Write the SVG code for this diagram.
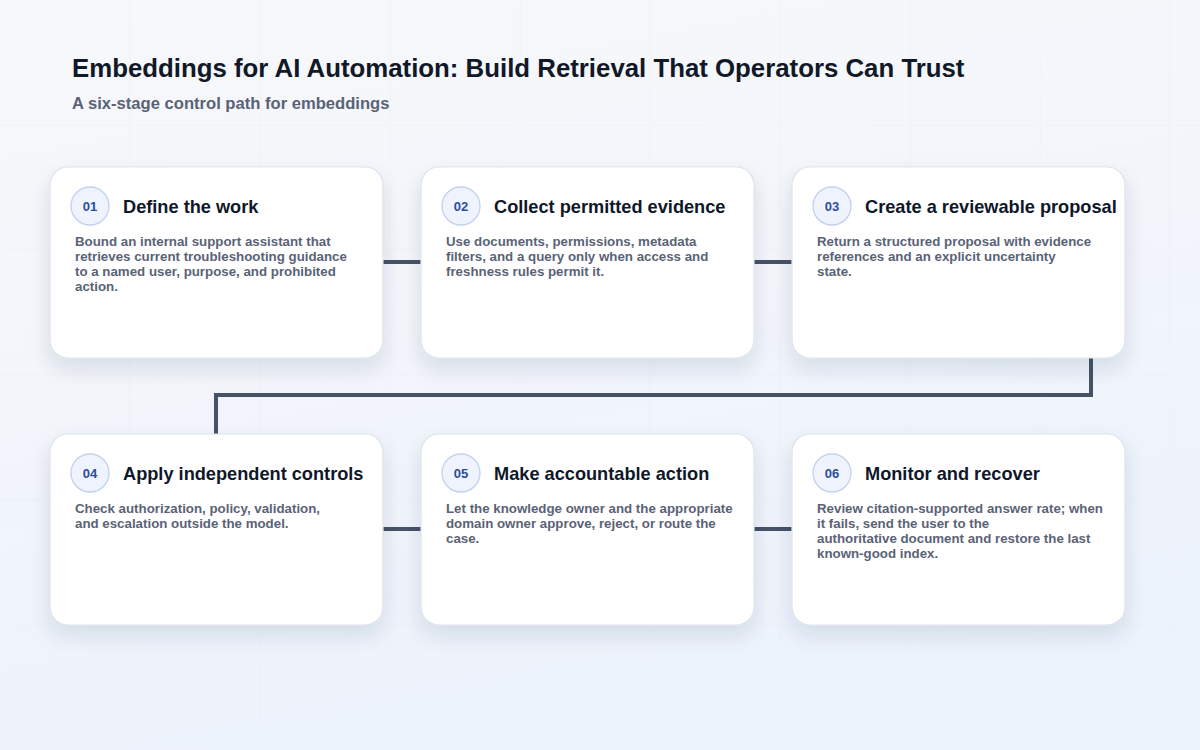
<svg xmlns="http://www.w3.org/2000/svg" width="1200" height="750" viewBox="0 0 1200 750">
<defs>
<linearGradient id="bg" x1="0" y1="0" x2="0.3" y2="1">
<stop offset="0" stop-color="#f7f8fa"/>
<stop offset="1" stop-color="#edf3fc"/>
</linearGradient>
<filter id="sh" x="-20%" y="-20%" width="140%" height="150%">
<feDropShadow dx="0" dy="10" stdDeviation="10" flood-color="#1e2a50" flood-opacity="0.12"/>
</filter>
<style>
.card{fill:#ffffff;stroke:#dde3ec;stroke-width:1.2}
.badge{fill:#eef3fd;stroke:#c3d1ec;stroke-width:1.3}
.num{font-family:"Liberation Sans",Arial,sans-serif;font-weight:bold;font-size:13px;fill:#2d4d9c;text-anchor:middle}
.ttl{font-family:"Liberation Sans",Arial,sans-serif;font-weight:bold;font-size:18.2px;fill:#0f172a}
.desc{font-family:"Liberation Sans",Arial,sans-serif;font-weight:bold;font-size:13.3px;fill:#5a6376}
.conn{fill:none;stroke:#465366;stroke-width:4;stroke-linejoin:miter}
.grid{stroke:#e9edf3;stroke-width:1}
</style>
</defs>
<rect width="1200" height="750" fill="url(#bg)"/>
<g id="grid" opacity="0.45">
<line class="grid" x1="130" y1="0" x2="130" y2="750"/>
<line class="grid" x1="260" y1="0" x2="260" y2="750"/>
<line class="grid" x1="390" y1="0" x2="390" y2="750"/>
<line class="grid" x1="520" y1="0" x2="520" y2="750"/>
<line class="grid" x1="650" y1="0" x2="650" y2="750"/>
<line class="grid" x1="780" y1="0" x2="780" y2="750"/>
<line class="grid" x1="910" y1="0" x2="910" y2="750"/>
<line class="grid" x1="1040" y1="0" x2="1040" y2="750"/>
<line class="grid" x1="1170" y1="0" x2="1170" y2="750"/>
<line class="grid" x1="0" y1="125" x2="1200" y2="125"/>
<line class="grid" x1="0" y1="250" x2="1200" y2="250"/>
<line class="grid" x1="0" y1="375" x2="1200" y2="375"/>
<line class="grid" x1="0" y1="500" x2="1200" y2="500"/>
<line class="grid" x1="0" y1="625" x2="1200" y2="625"/>
</g>
<text x="72" y="77" font-family="'Liberation Sans',Arial,sans-serif" font-weight="bold" font-size="25.8" fill="#111827">Embeddings for AI Automation: Build Retrieval That Operators Can Trust</text>
<text x="72" y="109" font-family="'Liberation Sans',Arial,sans-serif" font-weight="bold" font-size="16.6" fill="#5a6376">A six-stage control path for embeddings</text>
<g id="connectors">
<line class="conn" x1="383" y1="262" x2="421" y2="262"/>
<line class="conn" x1="754" y1="262" x2="792" y2="262"/>
<polyline class="conn" points="1091,358 1091,395 216,395 216,434"/>
<line class="conn" x1="383" y1="529" x2="421" y2="529"/>
<line class="conn" x1="754" y1="529" x2="792" y2="529"/>
</g>
<g id="node1">
<rect class="card" x="50" y="167" width="333" height="191" rx="18" filter="url(#sh)"/>
<circle class="badge" cx="90" cy="206" r="19"/>
<text class="num" x="90" y="211">01</text>
<text class="ttl" x="123" y="213">Define the work</text>
<text class="desc" x="75" y="246">Bound an internal support assistant that</text>
<text class="desc" x="75" y="261">retrieves current troubleshooting guidance</text>
<text class="desc" x="75" y="276">to a named user, purpose, and prohibited</text>
<text class="desc" x="75" y="291">action.</text>
</g>
<g id="node2">
<rect class="card" x="421" y="167" width="333" height="191" rx="18" filter="url(#sh)"/>
<circle class="badge" cx="461" cy="206" r="19"/>
<text class="num" x="461" y="211">02</text>
<text class="ttl" x="494" y="213">Collect permitted evidence</text>
<text class="desc" x="446" y="246">Use documents, permissions, metadata</text>
<text class="desc" x="446" y="261">filters, and a query only when access and</text>
<text class="desc" x="446" y="276">freshness rules permit it.</text>
</g>
<g id="node3">
<rect class="card" x="792" y="167" width="333" height="191" rx="18" filter="url(#sh)"/>
<circle class="badge" cx="832" cy="206" r="19"/>
<text class="num" x="832" y="211">03</text>
<text class="ttl" x="865" y="213">Create a reviewable proposal</text>
<text class="desc" x="817" y="246">Return a structured proposal with evidence</text>
<text class="desc" x="817" y="261">references and an explicit uncertainty</text>
<text class="desc" x="817" y="276">state.</text>
</g>
<g id="node4">
<rect class="card" x="50" y="434" width="333" height="191" rx="18" filter="url(#sh)"/>
<circle class="badge" cx="90" cy="473" r="19"/>
<text class="num" x="90" y="478">04</text>
<text class="ttl" x="123" y="480">Apply independent controls</text>
<text class="desc" x="75" y="513">Check authorization, policy, validation,</text>
<text class="desc" x="75" y="528">and escalation outside the model.</text>
</g>
<g id="node5">
<rect class="card" x="421" y="434" width="333" height="191" rx="18" filter="url(#sh)"/>
<circle class="badge" cx="461" cy="473" r="19"/>
<text class="num" x="461" y="478">05</text>
<text class="ttl" x="494" y="480">Make accountable action</text>
<text class="desc" x="446" y="513">Let the knowledge owner and the appropriate</text>
<text class="desc" x="446" y="528">domain owner approve, reject, or route the</text>
<text class="desc" x="446" y="543">case.</text>
</g>
<g id="node6">
<rect class="card" x="792" y="434" width="333" height="191" rx="18" filter="url(#sh)"/>
<circle class="badge" cx="832" cy="473" r="19"/>
<text class="num" x="832" y="478">06</text>
<text class="ttl" x="865" y="480">Monitor and recover</text>
<text class="desc" x="817" y="513">Review citation-supported answer rate; when</text>
<text class="desc" x="817" y="528">it fails, send the user to the</text>
<text class="desc" x="817" y="543">authoritative document and restore the last</text>
<text class="desc" x="817" y="558">known-good index.</text>
</g>
</svg>
